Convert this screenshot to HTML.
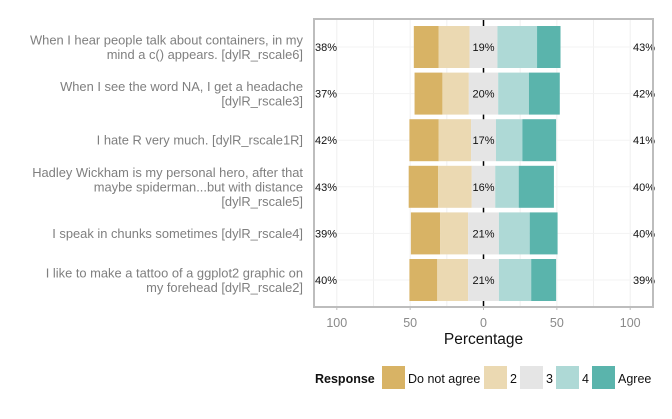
<!DOCTYPE html>
<html><head><meta charset="utf-8"><style>
body{margin:0;background:#fff;}
svg{display:block;font-family:"Liberation Sans",sans-serif;}
</style></head><body>
<svg width="672" height="419" id="chart">
<g id="g"></g>
</svg>
<script>
const items = [
  ["When I hear people talk about containers, in my","mind a c() appears. [dylR_rscale6]"],
  ["When I see the word NA, I get a headache","[dylR_rscale3]"],
  ["I hate R very much. [dylR_rscale1R]"],
  ["Hadley Wickham is my personal hero, after that","maybe spiderman...but with distance","[dylR_rscale5]"],
  ["I speak in chunks sometimes [dylR_rscale4]"],
  ["I like to make a tattoo of a ggplot2 graphic on","my forehead [dylR_rscale2]"]
];
const doNotAgree = [17,19,20,20,20,19];
const lvl2 = [21,18,22,23,19,21];
const lvl3 = [19,20,17,16,21,21];
const lvl4 = [27,21,18,16,21,22];
const agree = [16,21,23,24,19,17];
const leftLabels = ["38%","37%","42%","43%","39%","40%"];
const midLabels = ["19%","20%","17%","16%","21%","21%"];
const rightLabels = ["43%","42%","41%","40%","40%","39%"];
const xTicks = [-100,-50,0,50,100];
const levels = ["Do not agree","2","3","4","Agree"];
const colors = ["#d8b365","#ebd9b2","#e5e5e5","#aed9d6","#5ab4ac"];

const NS="http://www.w3.org/2000/svg";
const g=document.getElementById('g');
const X0=314,X1=653,Y0=19,Y1=307;
const x=v=>483.5+v*1.467;
const rowY=i=>47+i*46.6;
function el(t,a,txt){const e=document.createElementNS(NS,t);for(const k in a)e.setAttribute(k,a[k]);if(txt!==undefined)e.textContent=txt;g.appendChild(e);return e;}

let e=el('rect',{x:X0,y:Y0,width:X1-X0,height:Y1-Y0,fill:'#fff'});

[-100,-75,-50,-25,25,50,75,100].forEach(v=>{const l=el('line',{x1:x(v),x2:x(v),y1:Y0,y2:Y1,stroke:'#f0f0f0','stroke-width':1});
});
items.forEach((_,i)=>{const l=el('line',{x1:X0,x2:X1,y1:rowY(i),y2:rowY(i),stroke:'#f3f3f3','stroke-width':1});
});
e=el('line',{x1:x(0),x2:x(0),y1:Y0,y2:Y1,stroke:'#000','stroke-width':1.5});


items.forEach((lines,i)=>{
  const cy=rowY(i),h=42;
  const vals=[doNotAgree[i],lvl2[i],lvl3[i],lvl4[i],agree[i]];
  let start=-(vals[0]+vals[1]+vals[2]/2);
  vals.forEach((v,k)=>{
    const r=el('rect',{x:x(start),y:cy-h/2,width:v*1.467,height:h,fill:colors[k]});
    
    start+=v;
  });
  let t=el('text',{x:315,y:cy+4,'font-size':11,fill:'#111'},leftLabels[i]);
  
  t=el('text',{x:x(0),y:cy+4,'font-size':11,fill:'#111','text-anchor':'middle'},midLabels[i]);
  
  t=el('text',{x:633,y:cy+4,'font-size':11,fill:'#111'},rightLabels[i]);
  
  const n=lines.length,lh=14.5;
  lines.forEach((s,j)=>{
    const ty=cy+4.5+(j-(n-1)/2)*lh;
    const tt=el('text',{x:303,y:ty,'font-size':12.9,fill:'#7f7f7f','text-anchor':'end'},s);
    
  });
});
e=el('rect',{x:X0,y:Y0,width:X1-X0,height:Y1-Y0,fill:'none',stroke:'#bdbdbd','stroke-width':2});

xTicks.forEach(v=>{
  const l=el('line',{x1:x(v),x2:x(v),y1:Y1,y2:Y1+3,stroke:'#bdbdbd'});
  
  const t=el('text',{x:x(v),y:327,'font-size':12.5,fill:'#8a8a8a','text-anchor':'middle'},Math.abs(v));
  
});
e=el('text',{x:x(0),y:344,'font-size':15.5,fill:'#111','text-anchor':'middle'},'Percentage');

e=el('text',{x:315,y:383,'font-size':12.5,'font-weight':'bold',fill:'#111'},'Response');

const kx=[382,484,520,556,592];
levels.forEach((lv,k)=>{
  const r=el('rect',{x:kx[k],y:366,width:23,height:23,fill:colors[k]});
  
  const t=el('text',{x:kx[k]+26,y:383,'font-size':12.5,fill:'#111'},lv);
  
});
</script>
</body></html>
